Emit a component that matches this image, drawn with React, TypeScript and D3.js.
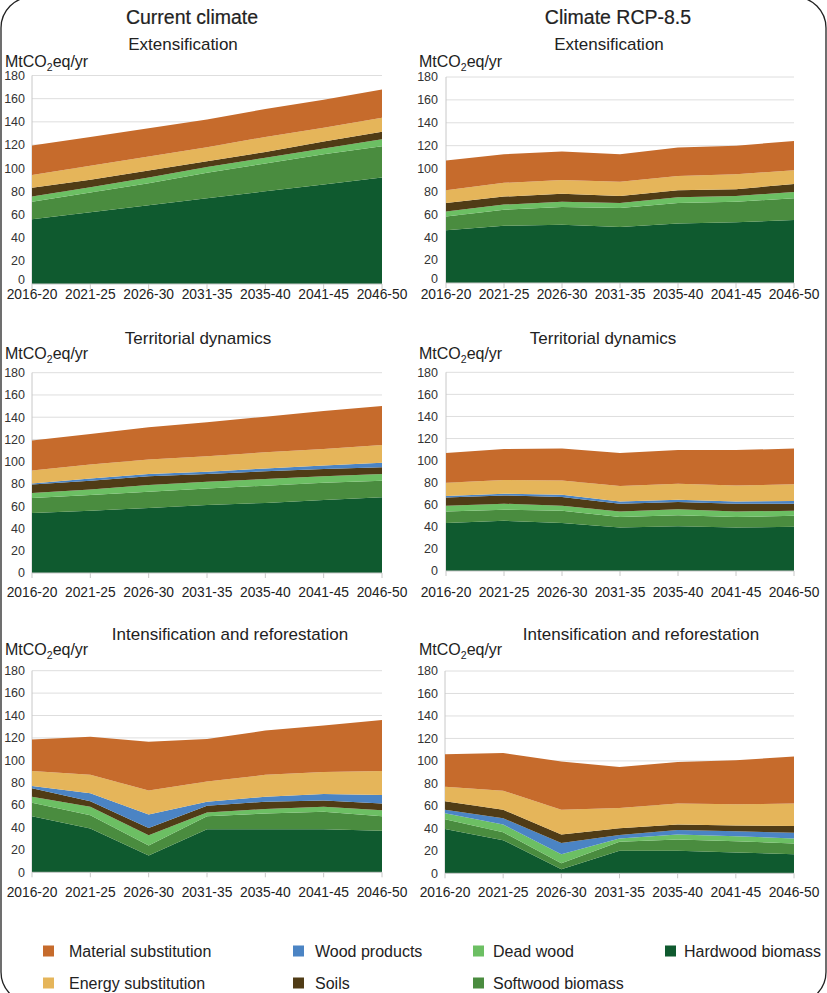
import React from "react";
import * as d3 from "d3";

const periods = ["2016-20", "2021-25", "2026-30", "2031-35", "2035-40", "2041-45", "2046-50"];
const yTicks = [0, 20, 40, 60, 80, 100, 120, 140, 160, 180];

const seriesNames = ["Hardwood biomass", "Softwood biomass", "Dead wood", "Soils", "Wood products", "Energy substitution", "Material substitution"];
const seriesColors = ["#0f5a2f", "#4a8c3f", "#6cbf63", "#503c16", "#4b84c4", "#e5b55a", "#c66b2c"];

// Current climate – Extensification
const curExtHardwood = [56, 62, 68, 74, 80, 86, 92];
const curExtSoftwood = [15, 17, 19, 22, 24, 26, 27];
const curExtDeadwood = [4.5, 4.5, 5, 5, 5, 5, 6];
const curExtSoils = [7.5, 6.5, 6, 5, 5, 6, 6.5];
const curExtWoodProducts = [0, 0, 0, 0, 0, 0, 0];
const curExtEnergy = [11, 12, 12, 12, 13, 12, 12];
const curExtMaterial = [25.5, 25, 24.5, 24, 24, 24, 24.5];

// RCP-8.5 – Extensification
const rcpExtHardwood = [46, 50, 51, 49, 52, 53, 55];
const rcpExtSoftwood = [12, 14, 15.5, 16.5, 18, 18, 19];
const rcpExtDeadwood = [4.5, 4.5, 4.5, 4.5, 5, 5, 5.5];
const rcpExtSoils = [7.5, 7, 7, 6, 6, 6, 7];
const rcpExtWoodProducts = [0, 0, 0, 0, 0, 0, 0];
const rcpExtEnergy = [11, 12, 12, 12.5, 12.5, 13, 12];
const rcpExtMaterial = [26, 25, 25, 24, 25, 25, 25.5];

// Current climate – Territorial dynamics
const curTerHardwood = [54, 56, 58.5, 61, 63, 65.5, 68];
const curTerSoftwood = [13.5, 14, 14.5, 15, 15.5, 15.5, 15];
const curTerDeadwood = [4.5, 5, 6, 6, 6, 6, 6];
const curTerSoils = [7.5, 8, 8, 7, 7, 6.5, 6];
const curTerWoodProducts = [1, 2, 2, 2, 2.5, 3, 4];
const curTerEnergy = [11.5, 12.5, 13, 14, 14.5, 15, 16];
const curTerMaterial = [27, 27.5, 29, 30.5, 32, 34, 35];

// RCP-8.5 – Territorial dynamics
const rcpTerHardwood = [43.5, 45.5, 43.5, 39.5, 40.5, 39.5, 40];
const rcpTerSoftwood = [10.5, 10, 11, 9.5, 10, 9.5, 10];
const rcpTerDeadwood = [5, 5.5, 4.5, 5, 5.5, 5, 4.5];
const rcpTerSoils = [7.5, 7.5, 8, 7, 6.5, 7, 6.5];
const rcpTerWoodProducts = [1.5, 1.5, 2, 2, 2, 2, 2.5];
const rcpTerEnergy = [12, 12.5, 13, 14, 14.5, 14.5, 15];
const rcpTerMaterial = [27, 28, 29, 30, 30.5, 32, 32.5];

// Current climate – Intensification and reforestation
const curIntHardwood = [50, 39, 15, 38.5, 38.5, 38.5, 37];
const curIntSoftwood = [12, 12, 9, 11.5, 14, 15.5, 13];
const curIntDeadwood = [5.5, 7.5, 9, 3.5, 4, 4.5, 5.5];
const curIntSoils = [7.5, 5, 6.5, 6, 6.5, 5.5, 6];
const curIntWoodProducts = [2, 7, 12, 3.5, 4.5, 6, 7.5];
const curIntEnergy = [13.5, 16.5, 21.5, 18, 19.5, 19.5, 21.5];
const curIntMaterial = [28, 34, 43.5, 38, 39.5, 41.5, 45.5];

// RCP-8.5 – Intensification and reforestation
const rcpIntHardwood = [39.5, 29.5, 3.5, 20, 20, 18.5, 17];
const rcpIntSoftwood = [8.5, 7, 5.5, 8, 10, 10, 9.5];
const rcpIntDeadwood = [5.5, 7, 8, 3, 4.5, 4.5, 4.5];
const rcpIntSoils = [7.5, 7.5, 7.5, 6, 5, 5, 6];
const rcpIntWoodProducts = [3, 5.5, 10, 3, 4, 4.5, 5];
const rcpIntEnergy = [13, 17, 22, 18, 18.5, 19, 20];
const rcpIntMaterial = [29, 33.5, 43, 36.5, 37, 39, 42];

const legendRows = [
  ["Material substitution", "Wood products", "Dead wood", "Hardwood biomass"],
  ["Energy substitution", "Soils", "Softwood biomass"],
];

const FONT = "'Liberation Sans', Arial, Helvetica, sans-serif";

type PanelSpec = {
  title: string;
  titleCx: number;
  titleY: number;
  unitX: number;
  unitY: number;
  x0: number;
  x1: number;
  yTop: number;
  yBot: number;
  labelRight: number;
  xLabelY: number;
  zeroShift: number;
  series: number[][];
  order: number[];
};

const stdOrder = [0, 1, 2, 3, 4, 5, 6];
const wpBelowSoils = [0, 1, 2, 4, 3, 5, 6];

const panels: PanelSpec[] = [
  { title: "Extensification", titleCx: 183, titleY: 50, unitX: 5, unitY: 67, x0: 32, x1: 382, yTop: 75.5, yBot: 284, labelRight: 25, xLabelY: 299, zeroShift: -4,
    series: [curExtHardwood, curExtSoftwood, curExtDeadwood, curExtSoils, curExtWoodProducts, curExtEnergy, curExtMaterial], order: stdOrder },
  { title: "Extensification", titleCx: 609, titleY: 50, unitX: 419, unitY: 67, x0: 446, x1: 794, yTop: 77, yBot: 283, labelRight: 438, xLabelY: 299, zeroShift: -4,
    series: [rcpExtHardwood, rcpExtSoftwood, rcpExtDeadwood, rcpExtSoils, rcpExtWoodProducts, rcpExtEnergy, rcpExtMaterial], order: stdOrder },
  { title: "Territorial dynamics", titleCx: 198, titleY: 344, unitX: 5, unitY: 359, x0: 32, x1: 382, yTop: 372.7, yBot: 573, labelRight: 25, xLabelY: 597, zeroShift: 0,
    series: [curTerHardwood, curTerSoftwood, curTerDeadwood, curTerSoils, curTerWoodProducts, curTerEnergy, curTerMaterial], order: stdOrder },
  { title: "Territorial dynamics", titleCx: 603, titleY: 344, unitX: 419, unitY: 359, x0: 446, x1: 794, yTop: 372.3, yBot: 571, labelRight: 438, xLabelY: 597, zeroShift: 0,
    series: [rcpTerHardwood, rcpTerSoftwood, rcpTerDeadwood, rcpTerSoils, rcpTerWoodProducts, rcpTerEnergy, rcpTerMaterial], order: stdOrder },
  { title: "Intensification and reforestation", titleCx: 230, titleY: 640, unitX: 5, unitY: 655, x0: 32, x1: 382, yTop: 670.7, yBot: 872.3, labelRight: 25, xLabelY: 897, zeroShift: 0,
    series: [curIntHardwood, curIntSoftwood, curIntDeadwood, curIntSoils, curIntWoodProducts, curIntEnergy, curIntMaterial], order: stdOrder },
  { title: "Intensification and reforestation", titleCx: 641, titleY: 640, unitX: 419, unitY: 655, x0: 445, x1: 794, yTop: 671, yBot: 873.3, labelRight: 438, xLabelY: 897, zeroShift: 0,
    series: [rcpIntHardwood, rcpIntSoftwood, rcpIntDeadwood, rcpIntSoils, rcpIntWoodProducts, rcpIntEnergy, rcpIntMaterial], order: wpBelowSoils },
];

function Panel({ p }: { p: PanelSpec }) {
  const x = d3.scalePoint<string>().domain(periods).range([p.x0, p.x1]);
  const y = d3.scaleLinear().domain([0, 180]).range([p.yBot, p.yTop]);
  const rows = periods.map((per, i) => {
    const r: any = { period: per };
    seriesNames.forEach((n, k) => (r[n] = p.series[k][i]));
    return r;
  });
  const keys = p.order.map((k) => seriesNames[k]);
  const stacked = d3.stack<any>().keys(keys)(rows);
  const area = d3
    .area<any>()
    .x((d) => x(d.data.period) as number)
    .y0((d) => y(d[0]))
    .y1((d) => y(d[1]));

  return (
    <g>
      <text x={p.titleCx} y={p.titleY} textAnchor="middle" fontSize={17} fill="#222" fontFamily={FONT}>
        {p.title}
      </text>
      <text x={p.unitX} y={p.unitY} fontSize={16} fill="#222" fontFamily={FONT}>
        MtCO
        <tspan fontSize={10.5} dy={4}>2</tspan>
        <tspan dy={-4}>eq/yr</tspan>
      </text>
      {yTicks.map((t) => (
        <g key={t}>
          {t > 0 && <line x1={p.x0} x2={p.x1} y1={y(t)} y2={y(t)} stroke="#dedede" strokeWidth={1} />}
          <text
            x={p.labelRight}
            y={y(t) + (t === 0 ? p.zeroShift : 0)}
            dy="0.35em"
            textAnchor="end"
            fontSize={12.5}
            fill="#333"
            fontFamily={FONT}
          >
            {t}
          </text>
        </g>
      ))}
      <line x1={p.x0} x2={p.x0} y1={p.yTop} y2={p.yBot} stroke="#c8c8c8" strokeWidth={1} />
      {stacked.map((s, i) => (
        <path key={s.key} d={area(s as any) || ""} fill={seriesColors[p.order[i]]} />
      ))}
      <line x1={p.x0} x2={p.x1} y1={p.yBot} y2={p.yBot} stroke="#c8c8c8" strokeWidth={1} />
      {periods.map((per) => (
        <g key={per}>
          <line x1={x(per)} x2={x(per)} y1={p.yBot} y2={p.yBot + 5} stroke="#c8c8c8" strokeWidth={1} />
          <text x={x(per)} y={p.xLabelY} textAnchor="middle" fontSize={13.8} fill="#222" fontFamily={FONT}>
            {per}
          </text>
        </g>
      ))}
    </g>
  );
}

export default function App() {
  const squareX = [43, 293, 473, 665];
  const textX = [69, 315, 493, 684];
  const rowY = [951, 983];
  return (
    <svg width={827} height={993} style={{ position: "absolute", left: 0, top: 0, background: "#fff" }}>
      <rect x={0} y={0} width={827} height={993} fill="#fff" />
      <rect x={1} y={-3} width={825} height={1006} rx={31} ry={31} fill="none" stroke="#222" strokeWidth={1.3} />
      <text x={192} y={24} textAnchor="middle" fontSize={19.5} fill="#222" stroke="#222" strokeWidth={0.2} fontFamily={FONT}>
        Current climate
      </text>
      <text x={618} y={24} textAnchor="middle" fontSize={19.5} fill="#222" stroke="#222" strokeWidth={0.2} fontFamily={FONT}>
        Climate RCP-8.5
      </text>
      {panels.map((p, i) => (
        <Panel key={i} p={p} />
      ))}
      {legendRows.map((row, ri) =>
        row.map((name, ci) => {
          const k = seriesNames.indexOf(name);
          return (
            <g key={name}>
              <rect x={squareX[ci]} y={rowY[ri] - 5.5} width={11} height={11} fill={seriesColors[k]} />
              <text x={textX[ci]} y={rowY[ri] + 5.5} fontSize={16} fill="#222" fontFamily={FONT}>
                {name}
              </text>
            </g>
          );
        })
      )}
    </svg>
  );
}
